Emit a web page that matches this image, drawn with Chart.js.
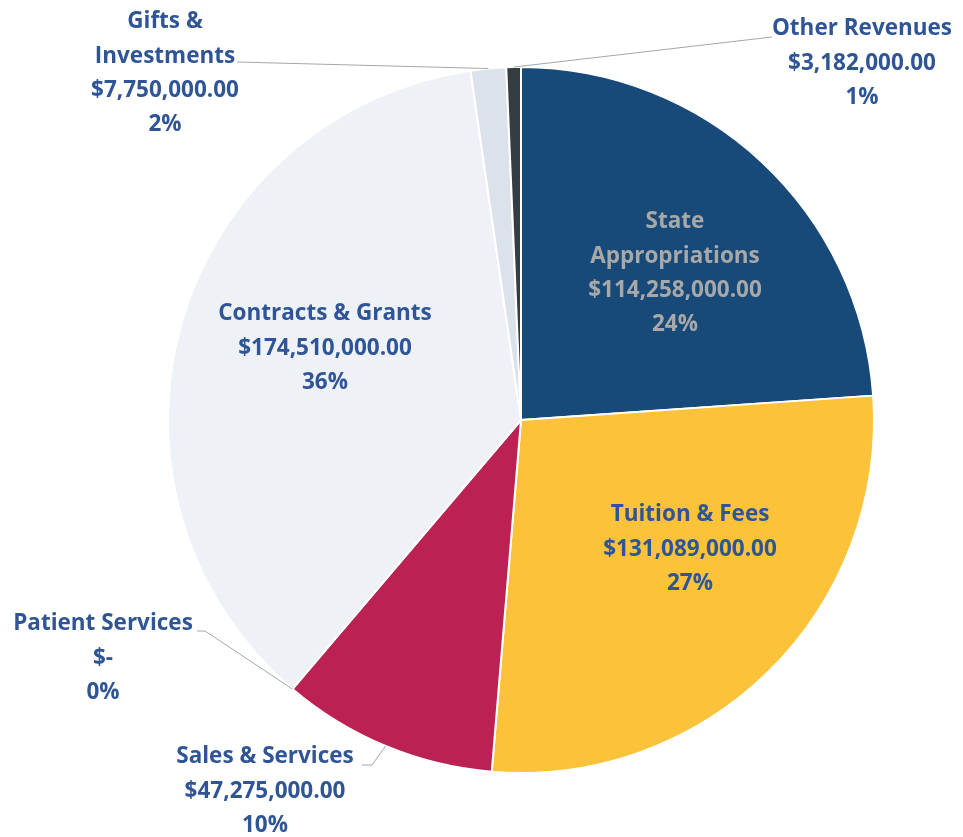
<!DOCTYPE html>
<html>
<head>
<meta charset="utf-8">
<script src="https://cdn.jsdelivr.net/npm/chart.js@4.4.1/dist/chart.umd.min.js"></script>
<style>
html,body{margin:0;padding:0;background:#fff;}
#wrap{width:963px;height:837px;position:relative;}
</style>
</head>
<body>
<div id="wrap"><canvas id="c" width="963" height="837"></canvas></div>
<script>
const categories = ["State Appropriations","Tuition & Fees","Sales & Services","Patient Services","Contracts & Grants","Gifts & Investments","Other Revenues"];
const labelLines = [["State","Appropriations"],["Tuition & Fees"],["Sales & Services"],["Patient Services"],["Contracts & Grants"],["Gifts &","Investments"],["Other Revenues"]];
const revenues = [114258000,131089000,47275000,0,174510000,7750000,3182000];
const percentLabels = ["24%","27%","10%","0%","36%","2%","1%"];
const sliceColors = ["#174A79","#FBC23A","#BB2151","#EEF1F5","#EEF1F5","#DCE2EA","#343D42"];

// label block placement (offset of first line from pie centre, px) and leader lines
const labelPos = [
  {dx:154, dy:-198, color:"#A8A8A8"},
  {dx:169, dy:95},
  {dx:-256, dy:337, leader:[[-159,345],[-149,345]]},
  {dx:-418, dy:204, leader:[[-324,211],[-316,211]]},
  {dx:-196, dy:-106},
  {dx:-356, dy:-398, leader:[[-284,-358]]},
  {dx:341, dy:-391, leader:[[251,-383]]}
];

function money(v){
  if(v===0) return "$-";
  return "$"+v.toLocaleString("en-US",{minimumFractionDigits:2,maximumFractionDigits:2});
}

const labelPlugin = {
  id:"sliceLabels",
  afterDatasetsDraw(chart){
    const ctx = chart.ctx;
    const meta = chart.getDatasetMeta(0);
    ctx.save();
    meta.data.forEach((arc,i)=>{
      const p = labelPos[i];
      const cx = arc.x, cy = arc.y;
      if(p.leader){
        const mid = (arc.startAngle+arc.endAngle)/2;
        const ex = cx + Math.cos(mid)*arc.outerRadius;
        const ey = cy + Math.sin(mid)*arc.outerRadius;
        ctx.strokeStyle="#A6A6A6";
        ctx.lineWidth=1;
        ctx.beginPath();
        p.leader.forEach((pt,k)=>{ if(k===0) ctx.moveTo(cx+pt[0],cy+pt[1]); else ctx.lineTo(cx+pt[0],cy+pt[1]); });
        ctx.lineTo(ex,ey);
        ctx.stroke();
      }
      const lines = labelLines[i].concat([money(revenues[i]), percentLabels[i]]);
      ctx.fillStyle = p.color || "#2F5597";
      ctx.font = "bold 22.5px 'Open Sans', sans-serif";
      ctx.textAlign="center";
      ctx.textBaseline="middle";
      lines.forEach((t,k)=>{
        ctx.fillText(t, cx+p.dx, cy+p.dy+k*34.3);
      });
    });
    ctx.restore();
  }
};

new Chart(document.getElementById("c"),{
  type:"pie",
  data:{labels:categories,datasets:[{data:revenues,backgroundColor:sliceColors,borderColor:"#ffffff",borderWidth:2}]},
  options:{
    responsive:false,
    animation:false,
    layout:{padding:{top:66,bottom:63,left:167,right:88}},
    plugins:{legend:{display:false},tooltip:{enabled:false}}
  },
  plugins:[labelPlugin]
});
</script>
</body>
</html>
